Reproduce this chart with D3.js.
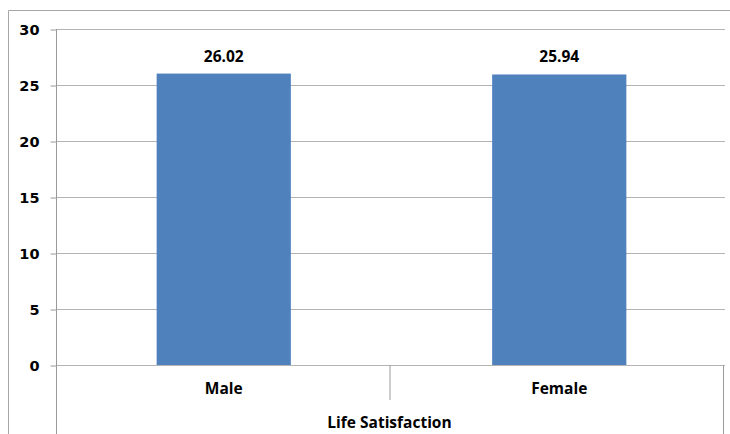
<!DOCTYPE html>
<html>
<head>
<meta charset="utf-8">
<script src="https://cdn.jsdelivr.net/npm/d3@7/dist/d3.min.js"></script>
<style>
  html, body { margin: 0; padding: 0; background: #fff; }
  svg { display: block; }
</style>
</head>
<body>
<svg id="chart" width="730" height="434"></svg>
<script>
// Mean life satisfaction score by gender
const categories = ["Male", "Female"];
const values = [26.02, 25.94];
const yTicks = [0, 5, 10, 15, 20, 25, 30];
const groupLabel = "Life Satisfaction";

const svg = d3.select("#chart");
const W = 730, H = 434;
const plot = { left: 56, right: 723, top: 29, bottom: 365 };
const labelFont = "Open Sans, sans-serif";

// outer chart frame
svg.append("path")
  .attr("d", `M8.5,${H} V10.5 H${W}`)
  .attr("fill", "none").attr("stroke", "#a6a6a6").attr("stroke-width", 1);

// bars sit slightly right of the category frame
const x = d3.scaleBand().domain(categories).range([plot.left, 727]);
const y = d3.scaleLinear().domain([0, 30]).range([plot.bottom, plot.top]);

// horizontal gridlines
svg.append("g").selectAll("line").data(yTicks).join("line")
  .attr("x1", plot.left).attr("x2", 725)
  .attr("y1", d => Math.round(y(d)) + 0.5).attr("y2", d => Math.round(y(d)) + 0.5)
  .attr("stroke", "#b3b3b3").attr("stroke-width", 1.2);

// y axis with ticks pointing left
const yAxis = svg.append("g")
  .attr("transform", `translate(${plot.left + 0.5},0.5)`)
  .call(d3.axisLeft(y).tickValues(yTicks).tickSize(6).tickPadding(11).tickFormat(d3.format("d")));
yAxis.select(".domain").remove();
yAxis.selectAll(".tick line").attr("stroke", "#9a9a9a");
yAxis.selectAll(".tick text")
  .attr("font-family", "DejaVu Sans, Verdana, sans-serif")
  .attr("font-weight", "bold").attr("font-size", 14.5).attr("fill", "#000");

// vertical axis line running down through the category area
svg.append("line")
  .attr("x1", plot.left + 0.5).attr("x2", plot.left + 0.5)
  .attr("y1", plot.top).attr("y2", H)
  .attr("stroke", "#9a9a9a");

// category group right boundary and inner divider
svg.append("line")
  .attr("x1", plot.right + 0.5).attr("x2", plot.right + 0.5)
  .attr("y1", plot.bottom).attr("y2", H)
  .attr("stroke", "#9a9a9a");
svg.append("line")
  .attr("x1", (plot.left + plot.right) / 2 + 0.5).attr("x2", (plot.left + plot.right) / 2 + 0.5)
  .attr("y1", plot.bottom).attr("y2", 400)
  .attr("stroke", "#9a9a9a");

// bars
const barW = x.bandwidth() * 0.4;
svg.append("g").selectAll("rect").data(values).join("rect")
  .attr("x", (d, i) => x(categories[i]) + (x.bandwidth() - barW) / 2)
  .attr("y", d => y(d))
  .attr("width", barW)
  .attr("height", d => y(0) - y(d))
  .attr("fill", "#4f81bd");

// value labels
svg.append("g").selectAll("text").data(values).join("text")
  .attr("x", (d, i) => x(categories[i]) + x.bandwidth() / 2)
  .attr("y", d => y(d) - 12)
  .attr("text-anchor", "middle")
  .attr("font-family", labelFont).attr("font-weight", "bold")
  .attr("font-size", 15.5).attr("fill", "#000")
  .text(d => d.toFixed(2));

// category labels
svg.append("g").selectAll("text").data(categories).join("text")
  .attr("x", d => x(d) + x.bandwidth() / 2)
  .attr("y", 394)
  .attr("text-anchor", "middle")
  .attr("font-family", labelFont).attr("font-weight", "bold")
  .attr("font-size", 15.5).attr("fill", "#000")
  .text(d => d);

// group label
svg.append("text")
  .attr("x", (plot.left + plot.right) / 2)
  .attr("y", 428)
  .attr("text-anchor", "middle")
  .attr("font-family", labelFont).attr("font-weight", "bold")
  .attr("font-size", 15.5).attr("fill", "#000")
  .text(groupLabel);
</script>
</body>
</html>
